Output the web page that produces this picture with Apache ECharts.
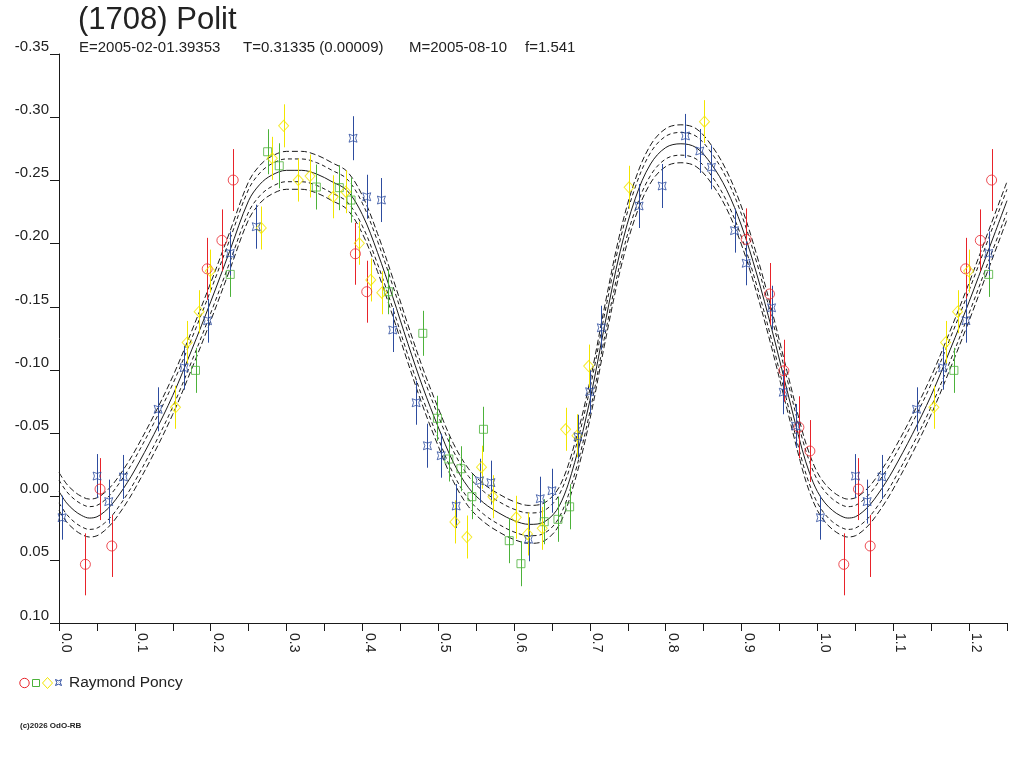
<!DOCTYPE html>
<html>
<head>
<meta charset="utf-8">
<script src="https://cdn.jsdelivr.net/npm/echarts@6/dist/echarts.min.js"></script>
<style>
html,body{margin:0;padding:0;background:#fff;}
#chart{width:1024px;height:768px;}
</style>
</head>
<body>
<div id="chart"></div>
<script>
// ---------- data ----------
const titleText = '(1708) Polit';
const subtitleParts = ['E=2005-02-01.39353', 'T=0.31335 (0.00009)', 'M=2005-08-10', 'f=1.541'];
const observerName = 'Raymond Poncy';
const copyrightText = '(c)2026 OdO-RB';

const xTickLabels = ['0.0','0.1','0.2','0.3','0.4','0.5','0.6','0.7','0.8','0.9','1.0','1.1','1.2'];
const yTickLabels = ['-0.35','-0.30','-0.25','-0.20','-0.15','-0.10','-0.05','0.00','0.05','0.10'];

// fitted curve (phase, magnitude) and its two envelopes
const curvePhase = [0,0.01,0.02,0.03,0.04,0.05,0.06,0.07,0.08,0.09,0.10,0.125,0.15,0.175,0.20,0.225,0.25,0.265,0.28,0.30,0.32,0.34,0.36,0.38,0.40,0.42,0.44,0.46,0.48,0.50,0.52,0.54,0.56,0.58,0.60,0.62,0.64,0.66,0.68,0.70,0.72,0.74,0.76,0.78,0.80,0.82,0.84,0.86,0.88,0.90,0.92,0.94,0.96,0.98,0.99,1.00];
const curveMid = [-0.004,0.005,0.011,0.015,0.017,0.016,0.012,0.006,-0.002,-0.011,-0.021,-0.049,-0.080,-0.116,-0.154,-0.194,-0.234,-0.247,-0.254,-0.258,-0.258,-0.255,-0.249,-0.242,-0.223,-0.193,-0.158,-0.121,-0.086,-0.055,-0.027,-0.007,0.005,0.013,0.019,0.022,0.020,0.007,-0.027,-0.076,-0.137,-0.194,-0.236,-0.263,-0.276,-0.279,-0.276,-0.263,-0.243,-0.214,-0.176,-0.132,-0.084,-0.037,-0.018,-0.004];
const curveInnerHi = [-0.013,-0.004,0.002,0.006,0.008,0.007,0.003,-0.003,-0.011,-0.020,-0.030,-0.058,-0.089,-0.125,-0.163,-0.203,-0.243,-0.256,-0.263,-0.267,-0.267,-0.264,-0.258,-0.251,-0.232,-0.202,-0.167,-0.130,-0.095,-0.064,-0.036,-0.016,-0.004,0.004,0.010,0.013,0.011,-0.002,-0.036,-0.085,-0.146,-0.203,-0.245,-0.272,-0.285,-0.288,-0.285,-0.272,-0.252,-0.223,-0.185,-0.141,-0.093,-0.046,-0.027,-0.013];
const curveInnerLo = [0.005,0.014,0.020,0.024,0.026,0.025,0.021,0.015,0.007,-0.002,-0.012,-0.040,-0.071,-0.107,-0.145,-0.185,-0.225,-0.238,-0.245,-0.249,-0.249,-0.246,-0.240,-0.233,-0.214,-0.184,-0.149,-0.112,-0.077,-0.046,-0.018,0.002,0.014,0.022,0.028,0.031,0.029,0.016,-0.018,-0.067,-0.128,-0.185,-0.227,-0.254,-0.267,-0.270,-0.267,-0.254,-0.234,-0.205,-0.167,-0.123,-0.075,-0.028,-0.009,0.005];
const curveOuterHi = [-0.019,-0.010,-0.004,0.000,0.002,0.001,-0.003,-0.009,-0.017,-0.026,-0.036,-0.064,-0.095,-0.131,-0.169,-0.209,-0.249,-0.262,-0.269,-0.273,-0.273,-0.270,-0.264,-0.257,-0.238,-0.208,-0.173,-0.136,-0.101,-0.070,-0.042,-0.022,-0.010,-0.002,0.004,0.007,0.005,-0.008,-0.042,-0.091,-0.152,-0.209,-0.251,-0.278,-0.291,-0.294,-0.291,-0.278,-0.258,-0.229,-0.191,-0.147,-0.099,-0.052,-0.033,-0.019];
const curveOuterLo = [0.011,0.020,0.026,0.030,0.032,0.031,0.027,0.021,0.013,0.004,-0.006,-0.034,-0.065,-0.101,-0.139,-0.179,-0.219,-0.232,-0.239,-0.243,-0.243,-0.240,-0.234,-0.227,-0.208,-0.178,-0.143,-0.106,-0.071,-0.040,-0.012,0.008,0.020,0.028,0.034,0.037,0.035,0.022,-0.012,-0.061,-0.122,-0.179,-0.221,-0.248,-0.261,-0.264,-0.261,-0.248,-0.228,-0.199,-0.161,-0.117,-0.069,-0.022,-0.003,0.011];

// observations [phase, magnitude] per symbol set, with the error bar half-length
const redPoints = [[0.0348,0.0536],[0.0541,-0.0059],[0.0696,0.0391],[0.1954,-0.1801],[0.2148,-0.2026],[0.2297,-0.2503],[0.3908,-0.1920],[0.4058,-0.1620],[0.9061,-0.2034],[0.9369,-0.1602],[0.9558,-0.0995],[0.9756,-0.0548],[0.9901,-0.0360]];
const redErr = 0.0245;
const greenPoints = [[0.1800,-0.0998],[0.2258,-0.1757],[0.2751,-0.2727],[0.2904,-0.2616],[0.3393,-0.2448],[0.3696,-0.2443],[0.3851,-0.2345],[0.4343,-0.1620],[0.4797,-0.1291],[0.4990,-0.0619],[0.5140,-0.0297],[0.5299,-0.0220],[0.5444,0.0001],[0.5597,-0.0532],[0.5937,0.0349],[0.6091,0.0531],[0.6398,0.0199],[0.6579,0.0180],[0.6733,0.0081]];
const greenErr = 0.0178;
const yellowPoints = [[0.1536,-0.0706],[0.1690,-0.1219],[0.1848,-0.1462],[0.1994,-0.1783],[0.2667,-0.2124],[0.2812,-0.2675],[0.2962,-0.2932],[0.3155,-0.2503],[0.3310,-0.2535],[0.3617,-0.2371],[0.3781,-0.2411],[0.3960,-0.2003],[0.4111,-0.1713],[0.4256,-0.1612],[0.5220,0.0201],[0.5378,0.0320],[0.5571,-0.0232],[0.5721,0.0001],[0.6029,0.0164],[0.6178,0.0296],[0.6372,0.0251],[0.6680,-0.0532],[0.6830,-0.0481],[0.6984,-0.1032],[0.7517,-0.2446],[0.8511,-0.2965]];
const yellowErr = 0.0170;
const bluePoints = [[0.0040,0.0167],[0.0502,-0.0162],[0.0656,0.0040],[0.0850,-0.0155],[0.1307,-0.0690],[0.1650,-0.1019],[0.1959,-0.1391],[0.2258,-0.1923],[0.2601,-0.2134],[0.3877,-0.2834],[0.4058,-0.2371],[0.4251,-0.2345],[0.4401,-0.1317],[0.4709,-0.0742],[0.4858,-0.0402],[0.5039,-0.0323],[0.5237,0.0075],[0.5545,-0.0125],[0.5695,-0.0110],[0.6191,0.0338],[0.6346,0.0017],[0.6500,-0.0046],[0.6843,-0.0473],[0.6997,-0.0829],[0.7151,-0.1335],[0.7649,-0.2298],[0.7953,-0.2456],[0.8260,-0.2852],[0.8449,-0.2733],[0.8603,-0.2604],[0.8907,-0.2103],[0.9061,-0.1845],[0.9395,-0.1493],[0.9550,-0.0825],[0.9712,-0.0558]];
const blueErr = 0.0174;

// ---------- chart ----------
const COLORS = {red:'#e8232a', green:'#4cb23a', yellow:'#f2e600', blue:'#2d4c9f', ink:'#1a1a1a'};
const FONT = '"Liberation Sans", Arial, sans-serif';
const BLUE_SYMBOL = 'path://M0,0 Q5,3.5 10,0 Q6.5,5 10,10 Q5,6.5 0,10 Q3.5,5 0,0 Z';
const PHASE_MAX = 1.25;

// the chart shows phases past 1: those repeat phases 0..0.25
function foldPoints(points) {
  return points.concat(points.filter(p => p[0] < PHASE_MAX - 1).map(p => [p[0] + 1, p[1]]));
}
function foldCurve(values) {
  const out = curvePhase.map((ph, i) => [ph, values[i]]);
  curvePhase.forEach((ph, i) => { if (ph > 0 && ph <= PHASE_MAX - 1 + 1e-9) out.push([ph + 1, values[i]]); });
  return out;
}
function lineSeries(values, type) {
  return {
    type: 'line', data: foldCurve(values), showSymbol: false, smooth: 0.35,
    lineStyle: {color: COLORS.ink, width: 1, type: type}, silent: true, z: 2
  };
}
function errSeries(points, err, color) {
  return {
    type: 'custom', data: foldPoints(points), z: 3, silent: true,
    renderItem: function (params, api) {
      const x = api.value(0), y = api.value(1);
      const a = api.coord([x, y - err]);
      const b = api.coord([x, y + err]);
      return {type: 'line', shape: {x1: Math.round(a[0]) + 0.5, y1: a[1], x2: Math.round(b[0]) + 0.5, y2: b[1]},
              style: {stroke: color, lineWidth: 1}};
    }
  };
}
function scatterSeries(points, symbol, size, color) {
  return {
    type: 'scatter', data: foldPoints(points), symbol: symbol, symbolSize: size, z: 4,
    itemStyle: {color: 'rgba(0,0,0,0)', borderColor: color, borderWidth: 1}
  };
}

const chart = echarts.init(document.getElementById('chart'), null, {renderer: 'canvas'});
const option = {
  animation: false,
  backgroundColor: '#ffffff',
  grid: {left: 59, right: 17, top: 54, bottom: 145},
  xAxis: {
    type: 'value', min: 0, max: PHASE_MAX, interval: 0.05,
    axisLine: {onZero: false, lineStyle: {color: COLORS.ink, width: 1}},
    axisTick: {show: true, length: 8, inside: false, lineStyle: {color: COLORS.ink}},
    splitLine: {show: false},
    axisLabel: {
      rotate: -90, margin: 10, verticalAlign: 'bottom', align: 'left',
      fontFamily: FONT, fontSize: 14, color: '#222',
      showMinLabel: true, showMaxLabel: true, hideOverlap: false,
      formatter: function (v) {
        const i = Math.round(v * 10);
        return Math.abs(v * 10 - i) < 1e-6 && xTickLabels[i] ? xTickLabels[i] : '';
      }
    }
  },
  yAxis: {
    type: 'value', inverse: true, min: -0.35, max: 0.10, interval: 0.05,
    axisLine: {show: true, lineStyle: {color: COLORS.ink, width: 1}},
    axisTick: {show: true, length: 9, inside: false, lineStyle: {color: COLORS.ink}},
    splitLine: {show: false},
    axisLabel: {
      margin: 10, verticalAlign: 'bottom', align: 'right',
      fontFamily: FONT, fontSize: 15, color: '#222',
      showMinLabel: true, showMaxLabel: true,
      formatter: function (v) {
        const i = Math.round((v + 0.35) / 0.05);
        return yTickLabels[i] !== undefined ? yTickLabels[i] : '';
      }
    }
  },
  series: [
    lineSeries(curveOuterHi, [6, 3]),
    lineSeries(curveInnerHi, [4, 3]),
    lineSeries(curveMid, 'solid'),
    lineSeries(curveInnerLo, [4, 3]),
    lineSeries(curveOuterLo, [6, 3]),
    errSeries(redPoints, redErr, COLORS.red),
    errSeries(greenPoints, greenErr, COLORS.green),
    errSeries(yellowPoints, yellowErr, COLORS.yellow),
    errSeries(bluePoints, blueErr, COLORS.blue),
    scatterSeries(redPoints, 'circle', 10, COLORS.red),
    scatterSeries(greenPoints, 'rect', 8, COLORS.green),
    scatterSeries(yellowPoints, 'diamond', [10, 11], COLORS.yellow),
    scatterSeries(bluePoints, BLUE_SYMBOL, 8, COLORS.blue)
  ],
  graphic: [
    {type: 'text', x: 78, y: 20, style: {text: titleText, font: '31px ' + FONT, fill: '#222', verticalAlign: 'middle'}},
    {type: 'text', x: 79, y: 48, style: {text: subtitleParts[0], font: '15px ' + FONT, fill: '#222', verticalAlign: 'middle'}},
    {type: 'text', x: 243, y: 48, style: {text: subtitleParts[1], font: '15px ' + FONT, fill: '#222', verticalAlign: 'middle'}},
    {type: 'text', x: 409, y: 48, style: {text: subtitleParts[2], font: '15px ' + FONT, fill: '#222', verticalAlign: 'middle'}},
    {type: 'text', x: 525, y: 48, style: {text: subtitleParts[3], font: '15px ' + FONT, fill: '#222', verticalAlign: 'middle'}},
    {type: 'line', shape: {x1: 50, y1: 623.5, x2: 59, y2: 623.5}, style: {stroke: COLORS.ink, lineWidth: 1}},
    // legend row
    {type: 'circle', shape: {cx: 24.5, cy: 683, r: 4.7}, style: {fill: 'none', stroke: COLORS.red, lineWidth: 1}},
    {type: 'rect', shape: {x: 32.5, y: 679.5, width: 7, height: 7}, style: {fill: 'none', stroke: COLORS.green, lineWidth: 1}},
    {type: 'polygon', shape: {points: [[47.5, 677.5], [52.5, 683], [47.5, 688.5], [42.5, 683]]}, style: {fill: 'none', stroke: COLORS.yellow, lineWidth: 1}},
    {type: 'polygon', shape: {points: [[55.5, 679.5], [58.5, 680.8], [61.5, 679.5], [60.2, 682.5], [61.5, 685.5], [58.5, 684.2], [55.5, 685.5], [56.8, 682.5]]}, style: {fill: 'none', stroke: COLORS.blue, lineWidth: 1}},
    {type: 'text', x: 69, y: 683, style: {text: observerName, font: '15.5px ' + FONT, fill: '#222', verticalAlign: 'middle'}},
    {type: 'text', x: 20, y: 726, style: {text: copyrightText, font: 'bold 8px ' + FONT, fill: '#222', verticalAlign: 'middle'}}
  ]
};
chart.setOption(option);
</script>
</body>
</html>
